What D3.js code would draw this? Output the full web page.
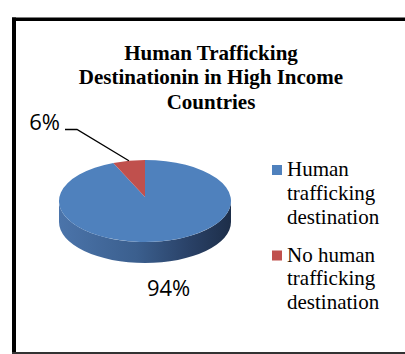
<!DOCTYPE html>
<html>
<head>
<meta charset="utf-8">
<script src="https://cdn.jsdelivr.net/npm/d3@7"></script>
<style>
  html, body { margin: 0; padding: 0; background: #fff; }
  svg { display: block; }
  .serif { font-family: "Liberation Serif", "Times New Roman", serif; }
  .sans { font-family: "Open Sans", "Liberation Sans", sans-serif; }
</style>
</head>
<body>
<svg id="chart" width="405" height="354"></svg>
<script>
// Share of high-income countries that are human trafficking destinations
const categories = ["Human trafficking destination", "No human trafficking destination"];
const legendLines = [["Human", "trafficking", "destination"], ["No human", "trafficking", "destination"]];
const values = [94, 6];
const valueLabels = ["94%", "6%"];
const titleLines = ["Human Trafficking", "Destinationin in High Income", "Countries"];
const colors = ["#4f81bd", "#c0504d"];

const svg = d3.select("#chart");

// Frame
svg.append("rect").attr("x", 12).attr("y", 17.5).attr("width", 393).attr("height", 3.5).attr("fill", "#000");
svg.append("rect").attr("x", 12).attr("y", 17.5).attr("width", 4).attr("height", 337).attr("fill", "#000");
svg.append("rect").attr("x", 12).attr("y", 352).attr("width", 393).attr("height", 2).attr("fill", "#333");

// Title
svg.append("text")
  .attr("class", "serif")
  .attr("x", 211).attr("y", 59.5)
  .attr("text-anchor", "middle")
  .attr("font-weight", "bold").attr("font-size", 21)
  .attr("fill", "#000")
  .selectAll("tspan").data(titleLines).join("tspan")
  .attr("x", 211).attr("dy", (d, i) => i === 0 ? 0 : 24.5)
  .text(d => d);

// 3D pie geometry
const cx = 145, cy = 201, rx = 86, ry = 41, depth = 21;
const apex = { x: cx, y: cy - 4 };
const pt = (a, dy = 0) => ({ x: cx + rx * Math.sin(a), y: cy - ry * Math.cos(a) + dy });

const arcs = d3.pie().sort(null).value(d => d)(values);

const defs = svg.append("defs");
const grad = defs.append("linearGradient").attr("id", "side")
  .attr("gradientUnits", "userSpaceOnUse")
  .attr("x1", cx - rx).attr("x2", cx + rx).attr("y1", 0).attr("y2", 0);
[["0%", "#4b74aa"], ["45%", "#3b5f8e"], ["75%", "#2a4268"], ["100%", "#1d2e49"]]
  .forEach(([o, c]) => grad.append("stop").attr("offset", o).attr("stop-color", c));
const gradR = defs.append("linearGradient").attr("id", "sideR")
  .attr("gradientUnits", "userSpaceOnUse")
  .attr("x1", cx - rx).attr("x2", cx + rx).attr("y1", 0).attr("y2", 0);
[["0%", "#a54542"], ["100%", "#5a2321"]]
  .forEach(([o, c]) => gradR.append("stop").attr("offset", o).attr("stop-color", c));

// Side walls: only the front half of the rim (angles between PI/2 and 3PI/2) is visible
const sidePath = (a0, a1) => {
  const b0 = Math.max(a0, Math.PI / 2), b1 = Math.min(a1, 3 * Math.PI / 2);
  if (b1 <= b0) return null;
  const p0 = pt(b0), p1 = pt(b1), q1 = pt(b1, depth), q0 = pt(b0, depth);
  const large = (b1 - b0) > Math.PI ? 1 : 0;
  return `M${p0.x},${p0.y} A${rx},${ry} 0 ${large} 1 ${p1.x},${p1.y} L${q1.x},${q1.y} A${rx},${ry} 0 ${large} 0 ${q0.x},${q0.y} Z`;
};
svg.append("g").selectAll("path")
  .data(arcs.filter(a => sidePath(a.startAngle, a.endAngle)))
  .join("path")
  .attr("d", a => sidePath(a.startAngle, a.endAngle))
  .attr("fill", a => a.index === 0 ? "url(#side)" : "url(#sideR)");

// Top faces
const topPath = a => {
  const p0 = pt(a.startAngle), p1 = pt(a.endAngle);
  const large = (a.endAngle - a.startAngle) > Math.PI ? 1 : 0;
  return `M${apex.x},${apex.y} L${p0.x},${p0.y} A${rx},${ry} 0 ${large} 1 ${p1.x},${p1.y} Z`;
};
svg.append("g").selectAll("path").data(arcs).join("path")
  .attr("d", topPath)
  .attr("fill", (a, i) => colors[i]);

// Data labels
// 94% sits below the front of the pie
const big = arcs[0], bigMid = (big.startAngle + big.endAngle) / 2;
const bp = pt(bigMid, depth);
svg.append("text")
  .attr("class", "sans")
  .attr("x", bp.x + 7.5).attr("y", bp.y + 33.5)
  .attr("text-anchor", "middle")
  .attr("font-size", 22)
  .attr("fill", "#000")
  .text(valueLabels[0]);

// 6% sits up-left with a leader line to its slice
const small = arcs[1], smallMid = (small.startAngle + small.endAngle) / 2;
const sp = pt(smallMid);
const lblX = 60, lblY = 129.5;
svg.append("path")
  .attr("d", `M${lblX + 5},${lblY} L${lblX + 17},${lblY} L${sp.x},${sp.y}`)
  .attr("fill", "none").attr("stroke", "#000").attr("stroke-width", 1.3);
svg.append("text")
  .attr("class", "sans")
  .attr("x", lblX).attr("y", lblY)
  .attr("text-anchor", "end")
  .attr("font-size", 22)
  .attr("fill", "#000")
  .text(valueLabels[1]);

// Legend
const legendTop = [165, 250.5];
const lg = svg.append("g").selectAll("g").data(categories).join("g");
lg.append("rect")
  .attr("x", 272).attr("y", (d, i) => legendTop[i])
  .attr("width", 10).attr("height", 10)
  .attr("fill", (d, i) => colors[i]);
lg.append("text")
  .attr("class", "serif")
  .attr("font-size", 21).attr("fill", "#000")
  .attr("y", (d, i) => legendTop[i] + 11)
  .selectAll("tspan").data((d, i) => legendLines[i]).join("tspan")
  .attr("x", 287).attr("dy", (d, j) => j === 0 ? 0 : 23.8)
  .text(d => d);
</script>
</body>
</html>
